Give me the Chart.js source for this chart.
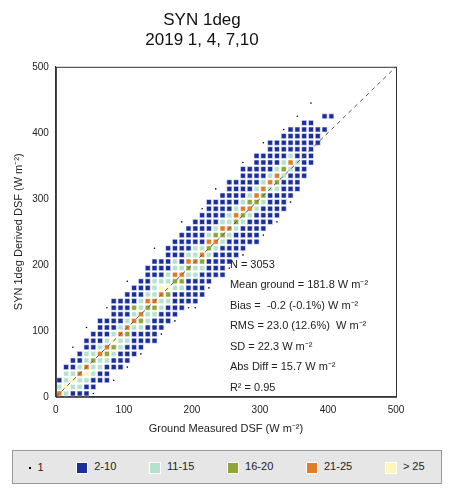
<!DOCTYPE html>
<html><head><meta charset="utf-8">
<script src="https://cdn.jsdelivr.net/npm/chart.js@4"></script>
<style>
body{margin:0;background:#fff;font-family:"Liberation Sans",Arial,sans-serif}
#wrap{width:451px;height:440px;position:relative}
#legend{position:absolute;left:12px;top:450px;width:428px;height:32px;background:#e6e6e6;border:1px solid #999;display:flex;align-items:center;justify-content:space-around;font-size:11px;color:#222}
#legend span{color:#222}
#legend span b{display:inline-block;width:10px;height:10px;vertical-align:middle;margin-right:6px;border:1px solid #fff}
</style></head><body>
<div id="wrap"><canvas id="c" width="451" height="440"></canvas></div>
<div id="legend">
<span><b style="width:2px;height:2px;background:#000;border:none"></b>1</span>
<span><b style="background:#1a2f9c"></b>2-10</span>
<span><b style="background:#b4e3cd"></b>11-15</span>
<span><b style="background:#8fa637"></b>16-20</span>
<span><b style="background:#e07b28"></b>21-25</span>
<span><b style="background:#fdf7b7"></b>&gt; 25</span>
</div>
<script>
// x bin (10 W m-2 wide) -> counts class for y bins offset -8..+8 around the diagonal
// . none, 1 single, b 2-10, c 11-15, g 16-20, o 21-25, y >25
const binCols = [
"........ocb......", ".......cyccb.....", "......bcycbb.1...", ".....bccocbb.....",
"....bbcyoccbb.1..", "...1bbccgcbbb....", "....bbccocbbbb...", "...bbbcgocbbb.1..",
"..1.bbcgycbbbbb..", "...bbbccocbbbb...", "..1bbbcgocbbbb.1.", "...bbbbcocgbbb...",
"..1bbbcgoccbbb...", "...bbbccgocbbbb..", "..bbbbcgocccbbb.1", "..1bbbccoycbbb...",
"...bbbcgyccbbbb..", "..1bbbbcgoccbbb..", "...bbbcgocbbbbb.1", "..1bbbbcgocbbbb..",
".1bbbbccoccbbbb..", "..bbbbcgocbbbbb1.", "..1bbbbcgocbbbbb.", "...bbbbcogcbbbb.1",
"..bbbbbcgocbbbb..", "..1bbbbcoccbbbbb.", "...bbbbcgocbbbb..", "..1bbbbcgocbbbbb1",
"...bbbbcogcbbbb..", "..bbbbbcgocbbbbb.", "..1bbbbcgocbbbb.1", "...bbbbbcocbbbbb.",
"..1bbbbcgocbbbb..", "...bbbbbcgcbbbb1.", "...1bbbbcocbbbb..", "....bbbbcbbbbb.1.",
".....bbbbbbbbb...", "......bbbbbbb..1.", "........bbb......", ".........b.b.....",
"..........b......"
];
const classes = ['b','c','g','o','y'];
const classColors = ['#1a2f9c','#b4e3cd','#8fa637','#e07b28','#fdf7b7'];
const axisTicks = [0,100,200,300,400,500];
const statLines = ['N = 3053','Mean ground = 181.8 W m\u207B\u00B2','Bias =  -0.2 (-0.1%) W m\u207B\u00B2',
  'RMS = 23.0 (12.6%)  W m\u207B\u00B2','SD = 22.3 W m\u207B\u00B2','Abs Diff = 15.7 W m\u207B\u00B2','R\u00B2 = 0.95'];

const cells = {}; classes.forEach(k => cells[k] = []);
const singles = [];
binCols.forEach((s, i) => {
  for (let j = 0; j < s.length; j++) {
    const yb = i + j - 8, ch = s[j];
    if (yb < 0 || ch === '.') continue;
    const p = {x: i*10+5, y: yb*10+5};
    if (ch === '1') singles.push(p); else cells[ch].push(p);
  }
});

const datasets = [{type:'line', data:[{x:0,y:0},{x:500,y:500}], borderColor:'#555', borderWidth:1,
  borderDash:[4,4], pointRadius:0, order:0}];
classes.forEach((k, n) => datasets.push({data: cells[k], pointStyle:'rect', pointRadius:3.6,
  backgroundColor: classColors[n], borderColor:'#fff', borderWidth:0.6, order:1}));
datasets.push({data: singles, pointRadius:0.8, backgroundColor:'#000', borderWidth:0, order:1});

const statsPlugin = {id:'stats', afterDatasetsDraw(ch){
  const c = ch.ctx, a = ch.chartArea;
  c.save();
  c.strokeStyle='#333'; c.lineWidth=1;
  c.strokeRect(a.left+0.5, a.top+0.5, a.right-a.left, a.bottom-a.top);
  c.fillStyle='#222'; c.font='11px "Liberation Sans", Arial';
  statLines.forEach((t, i) => c.fillText(t, a.left + 174, a.top + 201 + i*20.5));
  c.restore();
}};

new Chart(document.getElementById('c'), {
  type:'scatter',
  data:{datasets},
  plugins:[statsPlugin],
  options:{
    responsive:false, animation:false,
    layout:{padding:{left:8,right:55,top:0}},
    plugins:{legend:{display:false}, tooltip:{enabled:false},
      title:{display:true, text:['SYN 1deg','2019 1, 4, 7,10'], color:'#111',
        font:{size:17, weight:'normal', family:'"Liberation Sans", Arial'}, padding:{top:10,bottom:16}}},
    scales:{
      x:{min:0,max:500, afterBuildTicks:ax => ax.ticks = axisTicks.map(v=>({value:v})),
        grid:{display:false, drawTicks:true, tickLength:4, tickColor:'#333'}, border:{color:'#333'},
        ticks:{color:'#222', font:{size:10}},
        title:{display:true, text:'Ground Measured DSF (W m\u207B\u00B2)', color:'#222', font:{size:11}}},
      y:{min:0,max:500, afterBuildTicks:ax => ax.ticks = axisTicks.map(v=>({value:v})),
        grid:{display:false, tickLength:4, tickColor:'#333'}, border:{color:'#333'},
        ticks:{color:'#222', font:{size:10}},
        title:{display:true, text:'SYN 1deg Derived DSF (W m\u207B\u00B2)', color:'#222', font:{size:11}}}
    }
  }
});
</script>
</body></html>
